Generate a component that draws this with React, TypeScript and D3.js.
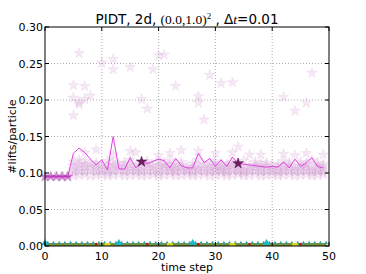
import { useMemo } from "react";
import * as d3 from "d3";

// PIDT lift counts per particle over time — mean curve + per-run scatter.

const steps = d3.range(50);

const meanLifts = [
  0.095, 0.095, 0.095, 0.095, 0.095, 0.127, 0.134, 0.128, 0.119, 0.111,
  0.118, 0.104, 0.15, 0.106, 0.105, 0.121, 0.107, 0.115, 0.113, 0.116,
  0.119, 0.117, 0.107, 0.12, 0.11, 0.107, 0.107, 0.127, 0.114, 0.12,
  0.109, 0.118, 0.109, 0.122, 0.113, 0.112, 0.111, 0.11, 0.109, 0.108,
  0.109, 0.108, 0.115, 0.107, 0.119, 0.109, 0.114, 0.121, 0.109, 0.107,
];

// outlying runs (step, value)
const outliers: [number, number][] = [
  [5, 0.22], [5, 0.203], [5, 0.179], [6, 0.264], [6, 0.197], [6, 0.194],
  [7, 0.201], [7, 0.219], [8, 0.206], [10, 0.251], [12, 0.256], [12, 0.242],
  [15, 0.245], [17, 0.201], [18, 0.188], [19, 0.242], [20, 0.261], [21, 0.262],
  [23, 0.219], [27, 0.205], [27, 0.196], [28, 0.173], [29, 0.234], [31, 0.223],
  [33, 0.224], [42, 0.204], [44, 0.185], [46, 0.196], [47, 0.237],
  [7, 0.128], [9, 0.132], [12, 0.125], [15, 0.13], [16, 0.128], [20, 0.124],
  [22, 0.127], [24, 0.131], [27, 0.13], [30, 0.127], [33, 0.128], [34, 0.136],
  [36, 0.125], [38, 0.125], [42, 0.126], [44, 0.124], [46, 0.127], [49, 0.125],
];

// bulk of the runs, steps 5..49
const cluster: number[][] = [
  [0.096, 0.101, 0.105, 0.11, 0.115],
  [0.097, 0.103, 0.108, 0.112, 0.118],
  [0.098, 0.102, 0.107, 0.111, 0.116],
  [0.096, 0.104, 0.108, 0.113],
  [0.097, 0.101, 0.106, 0.11, 0.114],
  [0.098, 0.103, 0.107, 0.112],
  [0.096, 0.1, 0.105, 0.109, 0.117],
  [0.097, 0.102, 0.106, 0.111, 0.115],
  [0.098, 0.104, 0.108, 0.113],
  [0.096, 0.101, 0.105, 0.11, 0.114],
  [0.097, 0.103, 0.107, 0.112, 0.118],
  [0.098, 0.102, 0.106, 0.11],
  [0.096, 0.101, 0.105, 0.109, 0.114],
  [0.097, 0.103, 0.108, 0.112, 0.116],
  [0.098, 0.102, 0.107, 0.111],
  [0.096, 0.1, 0.105, 0.11, 0.115],
  [0.097, 0.103, 0.107, 0.111, 0.114],
  [0.098, 0.102, 0.106, 0.11, 0.117],
  [0.096, 0.101, 0.104, 0.108, 0.112],
  [0.097, 0.103, 0.107, 0.111, 0.115],
  [0.098, 0.102, 0.105, 0.109],
  [0.096, 0.1, 0.104, 0.108, 0.113],
  [0.097, 0.103, 0.106, 0.11, 0.118],
  [0.098, 0.102, 0.107, 0.112],
  [0.096, 0.101, 0.105, 0.109, 0.114],
  [0.097, 0.103, 0.106, 0.11, 0.116],
  [0.098, 0.102, 0.105, 0.109, 0.113],
  [0.096, 0.1, 0.104, 0.108, 0.112],
  [0.097, 0.103, 0.107, 0.111, 0.115],
  [0.098, 0.101, 0.105, 0.109, 0.114],
  [0.096, 0.1, 0.104, 0.108, 0.117],
  [0.097, 0.102, 0.106, 0.11],
  [0.098, 0.103, 0.107, 0.111, 0.115],
  [0.096, 0.101, 0.105, 0.109, 0.113],
  [0.097, 0.102, 0.106, 0.11, 0.114],
  [0.098, 0.103, 0.107, 0.111],
  [0.096, 0.1, 0.104, 0.108, 0.112],
  [0.097, 0.102, 0.106, 0.11, 0.116],
  [0.098, 0.103, 0.107, 0.111, 0.114],
  [0.096, 0.101, 0.105, 0.109],
  [0.097, 0.102, 0.106, 0.11, 0.115],
  [0.098, 0.103, 0.107, 0.111, 0.113],
  [0.096, 0.1, 0.104, 0.108, 0.117],
  [0.097, 0.102, 0.106, 0.11, 0.114],
  [0.098, 0.101, 0.105, 0.109, 0.112],
];

const highlighted: [number, number][] = [[17, 0.1155], [34, 0.113]];

// zero-lift series markers
const redSteps = [9, 18, 27, 36, 45];
const yellowSteps = [11, 22, 33, 44];
const cyanSteps = [0, 13, 26, 39];

const xTicks = [0, 10, 20, 30, 40, 50];
const yTicks = [0, 0.05, 0.1, 0.15, 0.2, 0.25, 0.3];

const W = 366;
const H = 274;
const M = { left: 45, right: 329, top: 27, bottom: 246 };
const SANS = "DejaVu Sans, sans-serif";
const SERIF = "Liberation Serif, serif";

export default function App() {
  const x = d3.scaleLinear().domain([0, 50]).range([M.left, M.right]);
  const y = d3.scaleLinear().domain([0, 0.3]).range([M.bottom, M.top]);

  const line = d3
    .line<number>()
    .x((_, i) => x(steps[i]))
    .y((d) => y(d));

  const star = useMemo(() => d3.symbol(d3.symbolStar, 34)(), []);
  const tri = useMemo(() => d3.symbol(d3.symbolTriangle, 7)(), []);
  const triBig = useMemo(() => d3.symbol(d3.symbolTriangle, 22)(), []);

  const scatter: [number, number][] = [];
  cluster.forEach((vals, i) => vals.forEach((v) => scatter.push([i + 5, v])));
  outliers.forEach((p) => scatter.push(p));

  return (
    <svg
      width={W}
      height={H}
      style={{ position: "absolute", left: 0, top: 0, background: "#fff" }}
    >
      <rect x={0} y={0} width={W} height={H} fill="#fff" />

      {/* grid */}
      {xTicks.slice(1, -1).map((t) => (
        <line key={"gx" + t} x1={x(t)} x2={x(t)} y1={M.top} y2={M.bottom}
          stroke="#999" strokeWidth={0.8} strokeDasharray="1,2" />
      ))}
      {yTicks.slice(1, -1).map((t) => (
        <line key={"gy" + t} x1={M.left} x2={M.right} y1={y(t)} y2={y(t)}
          stroke="#999" strokeWidth={0.8} strokeDasharray="1,2" />
      ))}

      {/* run scatter */}
      <g>
        {scatter.map(([t, v], i) => (
          <path key={i} d={star ?? ""} transform={`translate(${x(t)},${y(v)})`}
            fill="#c078c0" fillOpacity={0.16} stroke="#c078c0" strokeOpacity={0.2}
            strokeWidth={0.6} />
        ))}
      </g>

      {/* mean curve */}
      <path d={line(meanLifts) ?? ""} fill="none" stroke="#e040e0" strokeWidth={1} />
      <line x1={x(0)} x2={x(4.5)} y1={y(0.095)} y2={y(0.095)} stroke="#dd33dd" strokeWidth={1.8} />
      {steps.slice(0, 5).map((t) => (
        <path key={"ms" + t} d={star ?? ""} transform={`translate(${x(t)},${y(meanLifts[t])})`}
          fill="#b040b0" fillOpacity={0.55} stroke="#b040b0" strokeOpacity={0.6} strokeWidth={0.5} />
      ))}

      {highlighted.map(([t, v], i) => (
        <path key={"h" + i} d={star ?? ""} transform={`translate(${x(t)},${y(v)})`}
          fill="#6e1d63" stroke="#4a1042" strokeWidth={0.5} />
      ))}

      {/* zero series */}
      <line x1={x(0)} x2={x(49.5)} y1={y(0) - 1.5} y2={y(0) - 1.5} stroke="#7f902c" strokeWidth={3} />
      {steps.map((t) => (
        <path key={"zt" + t} d={tri ?? ""} transform={`translate(${x(t) + 2.8},${y(0) - 3})`}
          fill="#3a9e9e" />
      ))}
      {yellowSteps.map((t) => (
        <rect key={"ys" + t} x={x(t) - 3} y={y(0) - 3} width={6} height={3} fill="#d8d81a" />
      ))}
      {redSteps.map((t) => (
        <circle key={"rs" + t} cx={x(t)} cy={y(0) - 2} r={1.3} fill="#cc1111" />
      ))}
      {cyanSteps.map((t) => (
        <path key={"cs" + t} d={triBig ?? ""} transform={`translate(${x(t)},${y(0) - 3})`}
          fill="#18b8c8" />
      ))}

      {/* frame */}
      <rect x={M.left} y={M.top} width={M.right - M.left} height={M.bottom - M.top}
        fill="none" stroke="#000" strokeWidth={1} />

      {/* ticks */}
      {xTicks.map((t) => (
        <g key={"xt" + t}>
          <line x1={x(t)} x2={x(t)} y1={M.bottom} y2={M.bottom - 4} stroke="#000" />
          <line x1={x(t)} x2={x(t)} y1={M.top} y2={M.top + 4} stroke="#000" />
          <text x={x(t)} y={M.bottom + 14} textAnchor="middle" fontFamily={SANS} fontSize={11}>
            {t}
          </text>
        </g>
      ))}
      {yTicks.map((t) => (
        <g key={"yt" + t}>
          <line x1={M.left} x2={M.left + 4} y1={y(t)} y2={y(t)} stroke="#000" />
          <line x1={M.right} x2={M.right - 4} y1={y(t)} y2={y(t)} stroke="#000" />
          <text x={M.left - 2} y={y(t) + 4} textAnchor="end" fontFamily={SANS} fontSize={11}>
            {t.toFixed(2)}
          </text>
        </g>
      ))}

      {/* labels */}
      <text x={(M.left + M.right) / 2} y={M.bottom + 25} textAnchor="middle"
        fontFamily={SANS} fontSize={11}>time step</text>
      <text transform={`translate(16,${(M.top + M.bottom) / 2}) rotate(-90)`} textAnchor="middle"
        fontFamily={SANS} fontSize={11}>#lifts/particle</text>

      <text x={(M.left + M.right) / 2} y={24} textAnchor="middle" fontFamily={SANS} fontSize={13.5}>
        <tspan>PIDT, 2d, </tspan>
        <tspan fontFamily={SERIF}>(0.0,1.0)</tspan>
        <tspan fontFamily={SERIF} fontSize={9} dy={-5}>2</tspan>
        <tspan dy={5}> , Δ</tspan>
        <tspan fontFamily={SERIF} fontStyle="italic">t</tspan>
        <tspan>=0.01</tspan>
      </text>
    </svg>
  );
}
